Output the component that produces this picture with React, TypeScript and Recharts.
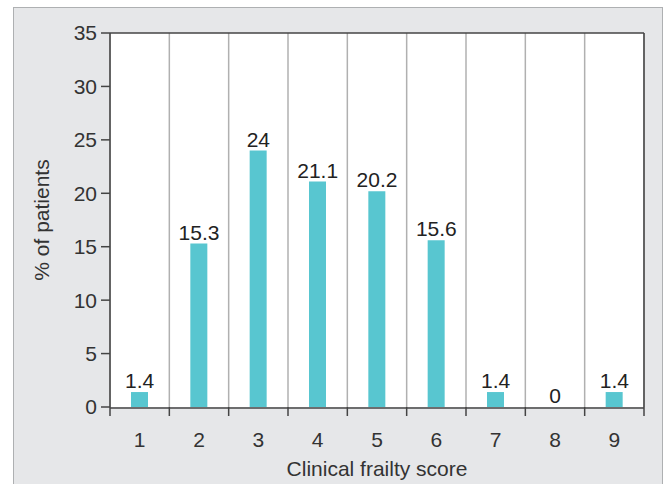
import { ComposedChart, Bar, Line, XAxis, YAxis, CartesianGrid, LabelList, Label } from 'recharts'

const scores = ['1', '2', '3', '4', '5', '6', '7', '8', '9']
const patientPct = [1.4, 15.3, 24, 21.1, 20.2, 15.6, 1.4, 0, 1.4]
const yTicks = [0, 5, 10, 15, 20, 25, 30, 35]
const edgeTicks = [0.5, 1.5, 2.5, 3.5, 4.5, 5.5, 6.5, 7.5, 8.5, 9.5]

const data = scores.map((s, i) => ({ score: s, pos: i + 1, pct: patientPct[i] }))

const font = '"Liberation Sans", Arial, sans-serif'
const axisColor = '#444'
const textStyle = { fontSize: 21, fontFamily: font }

export default function App() {
    return (
        <div style={{ position: 'fixed', left: 0, top: 0, width: 667, height: 484, background: '#fff', overflow: 'hidden', fontFamily: font }}>
            <div
                style={{
                    position: 'absolute',
                    left: 13,
                    top: 7,
                    width: 650,
                    height: 500,
                    background: '#e6e7e9',
                    border: '1.5px solid #aeb0b2',
                    boxSizing: 'border-box',
                }}
            />
            <div style={{ position: 'absolute', left: 0, top: 0 }}>
                <ComposedChart width={667} height={484} data={data} margin={{ top: 32, right: 22, bottom: 0, left: 30 }}>
                    <CartesianGrid xAxisId="a_edge" horizontal={false} fill="#fff" stroke="#b0b0b0" strokeWidth={1.5} />
                    <XAxis
                        xAxisId="a_edge"
                        dataKey="pos"
                        type="number"
                        domain={[0.5, 9.5]}
                        ticks={edgeTicks}
                        tickFormatter={() => ''}
                        tickSize={9}
                        tickLine={{ stroke: axisColor, strokeWidth: 1.5 }}
                        axisLine={false}
                        height={1}
                        allowDataOverflow
                    />
                    <XAxis
                        xAxisId="b_cat"
                        dataKey="score"
                        tickLine={false}
                        axisLine={{ stroke: axisColor, strokeWidth: 1.5 }}
                        tick={{ fill: '#333', style: textStyle }}
                        tickMargin={18}
                        height={76}
                    >
                        <Label value="Clinical frailty score" position="insideBottom" offset={8} fill="#333" style={textStyle} />
                    </XAxis>
                    <XAxis xAxisId="top" orientation="top" dataKey="score" tick={false} tickLine={false} axisLine={{ stroke: axisColor, strokeWidth: 1.5 }} height={1} />
                    <YAxis
                        domain={[0, 35]}
                        ticks={yTicks}
                        width={80}
                        tickSize={9}
                        tickLine={{ stroke: axisColor, strokeWidth: 1.5 }}
                        axisLine={{ stroke: axisColor, strokeWidth: 1.5 }}
                        tick={{ fill: '#333', style: textStyle }}
                        tickMargin={4}
                    >
                        <Label value="% of patients" angle={-90} position="insideLeft" offset={12} fill="#333" style={{ ...textStyle, textAnchor: 'middle' }} />
                    </YAxis>
                    <YAxis yAxisId="right" orientation="right" domain={[0, 35]} tick={false} tickLine={false} axisLine={{ stroke: axisColor, strokeWidth: 1.5 }} width={1} />
                    <Bar xAxisId="b_cat" dataKey="pct" fill="#58c6d0" barSize={17} isAnimationActive={false} />
                    <Line xAxisId="b_cat" dataKey="pct" stroke="none" dot={false} activeDot={false} isAnimationActive={false}>
                        <LabelList dataKey="pct" position="top" offset={4} fill="#222" style={textStyle} />
                    </Line>
                </ComposedChart>
            </div>
        </div>
    )
}
